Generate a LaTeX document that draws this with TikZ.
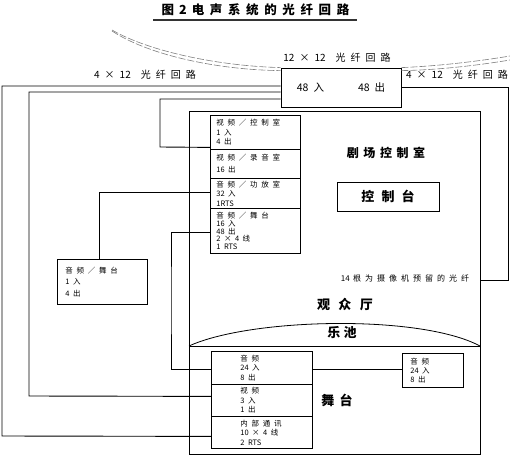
\documentclass[tikz,border=0pt]{standalone}
\usepackage{fontspec}
\setmainfont{Noto Sans CJK SC}
\newXeTeXintercharclass\mycjkclass
\def\setcjkclass#1{\ifx#1\relax\else\XeTeXcharclass`#1=\mycjkclass\expandafter\setcjkclass\fi}
\setcjkclass 图电声系统的光纤回路剧场控制室台观众厅乐池舞视频录音功放入出线根为摄像机预留内部通讯／\relax
\def\cjkg{.5em}
\XeTeXinterchartoks\mycjkclass\mycjkclass = {\kern\cjkg\relax}
\XeTeXinterchartokenstate=1
\newcommand\gsp{\hspace{3.5pt}}
\newcommand\lsp{\hspace{5pt}}
\tikzset{
  box/.style={draw, rectangle, inner ysep=0pt, align=left, anchor=north west},
  ctext/.style={font=\fontsize{7.5}{9.5}\selectfont\def\cjkg{.5em}},
  cbox/.style={box, ctext, inner xsep=6pt, text width=78pt},
  sbox/.style={box, ctext, inner xsep=29pt, text width=43pt},
  lab/.style={font=\fontsize{10}{12}\selectfont\def\cjkg{.5em}, inner sep=0pt},
  link/.style={line width=0.9pt},
  fiber/.style={gray, dash pattern=on 7pt off 2pt, line width=0.6pt}
}
\begin{document}
\begin{tikzpicture}[x=1pt, y=-1pt, line width=0.8pt]
\path[fill=white] (0,0) rectangle (510,457);
\useasboundingbox (0,0) rectangle (510,457);

% title
\node[font=\bfseries\fontsize{12.5}{14}\selectfont\def\cjkg{.45em}] (title) at (255.5,10) {图\lsp 2\lsp 电声系统的光纤回路};
\draw[line width=2pt, black!80] (153,20.5) -- (357,20.5);

% hub
\node[draw, minimum width=120pt, minimum height=39pt, inner sep=0pt,
      font=\fontsize{10.5}{12}\selectfont] (hub) at (341,87.5) {48\lsp 入\hspace{34pt}48\lsp 出\hspace{12pt}};

% fibre arcs
\coordinate (fa1) at (112,30);
\coordinate (fa2) at (112,31);
\coordinate (fb1) at (510,56);
\coordinate (fb2) at (510,60);
\draw[fiber] (fa1) .. controls (150,52) and (220,66) .. (hub.north west);
\draw[fiber] (fa2) .. controls (150,56) and (220,70) .. ([yshift=-3pt]hub.north west);
\draw[fiber] (hub.north east) .. controls (440,66) and (480,61) .. (fb1);
\draw[fiber] ([yshift=-3pt]hub.north east) .. controls (440,70) and (480,65) .. (fb2);

% labels
\node[lab] (t1212) at (337,58) {12\lsp ×\lsp 12\hspace{10pt}光纤回路};
\node[lab] (tl) at (145,75) {4\lsp ×\lsp 12\hspace{10pt}光纤回路};
\node[lab] (tr) at (457,75) {4\lsp ×\lsp 12\hspace{10pt}光纤回路};

% hall (control room + auditorium + stage)
\node[draw, minimum width=291pt, minimum height=343pt, inner sep=0pt] (hall) at (334.5,282.5) {};
\coordinate (pitL) at (189,346);
\coordinate (pitR) at (480,346);
\draw (pitL) -- (pitR);
\draw (pitL) .. controls (250,318) and (420,314) .. (pitR);

\node[font=\bfseries\fontsize{12}{14}\selectfont\def\cjkg{.38em}] (room) at (386,153) {剧场控制室};
\node[draw, minimum width=102pt, minimum height=29pt, inner sep=0pt,
      font=\bfseries\fontsize{13}{15}\selectfont\def\cjkg{.55em}] (desk) at (388,196.5) {控制台};
\node[font=\fontsize{8}{10}\selectfont\def\cjkg{.5em}] (cam) at (405,278) {14\gsp 根为摄像机预留的光纤};
\node[font=\bfseries\fontsize{13}{15}\selectfont\def\cjkg{.65em}] (aud) at (345,305) {观众厅};
\node[font=\bfseries\fontsize{13}{15}\selectfont\def\cjkg{.25em}] (pit) at (342,333) {乐池};
\node[font=\bfseries\fontsize{13}{15}\selectfont\def\cjkg{.4em}] (stage) at (337,400) {舞台};

% control room stack
\node[cbox, minimum height=34pt] (c1) at (210,115) {视频／控制室\\1\gsp 入\\4\gsp 出};
\node[cbox, minimum height=29pt] (c2) at (210,149) {视频／录音室\\[2.5pt]16\gsp 出};
\node[cbox, minimum height=30pt] (c3) at (210,178) {音频／功放室\\32\gsp 入\\1RTS};
\node[cbox, minimum height=45pt, font=\fontsize{7.5}{7.8}\selectfont\def\cjkg{.5em}] (c4) at (210,208) {音频／舞台\\16\gsp 入\\48\gsp 出\\2\gsp ×\gsp 4\gsp 线\\1\gsp RTS};

% left box
\node[box, inner xsep=8pt, text width=74pt, minimum height=45pt,
      font=\fontsize{7.5}{11.5}\selectfont\def\cjkg{.5em}] (lbox) at (57,259) {音频／舞台\\1\gsp 入\\4\gsp 出};

% stage stack
\node[sbox, minimum height=33pt] (s1) at (211,351) {音频\\24\gsp 入\\8\gsp 出};
\node[sbox, minimum height=32pt] (s2) at (211,384) {视频\\3\gsp 入\\1\gsp 出};
\node[sbox, minimum height=32pt] (s3) at (211,416) {内部通讯\\10\gsp ×\gsp 4\gsp 线\\2\gsp RTS};
\node[box, inner xsep=8pt, text width=45pt, minimum height=34pt,
      font=\fontsize{7.5}{9}\selectfont\def\cjkg{.5em}] (sr) at (402,353) {音频\\24\gsp 入\\8\gsp 出};

% connectors
\draw[link] ([yshift=1.5pt]hub.west) -| (2,436) -- ([yshift=-4pt]s3.west);
\draw[link] ([yshift=-4.5pt]hub.west) -| (29,396) -- ([yshift=4pt]s2.west);
\draw[link] ([yshift=-11.5pt]hub.west) -| (160,147) -- ([yshift=-15pt]c1.west);
\draw[link] ([xshift=-3pt]lbox.north) |- ([yshift=1pt]c3.west);
\draw[link] ([yshift=-1.5pt]c4.west) -| (171,300) |- ([yshift=-1.5pt]s1.west);
\draw[link] ([yshift=-1.5pt]s1.east) -- ([yshift=-1.5pt]s1.east -| sr.west);
\draw[link] ([yshift=0.5pt]hub.east) -| (508,280) -- ([yshift=2.5pt]hall.east);
\end{tikzpicture}
\end{document}
